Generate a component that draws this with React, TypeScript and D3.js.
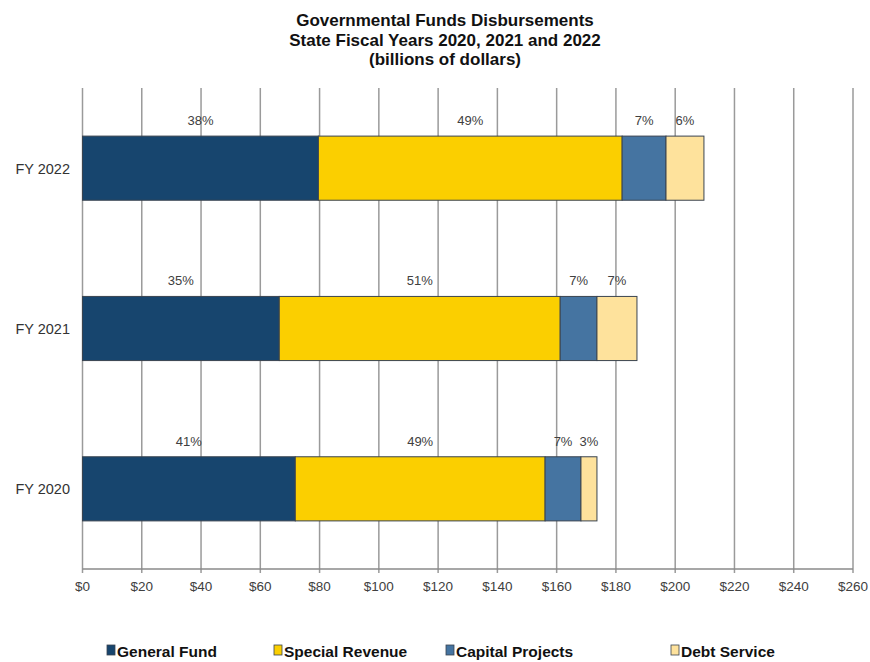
import React from "react";
import * as d3 from "d3";

const years = ["FY 2022", "FY 2021", "FY 2020"];
const seriesNames = ["General Fund", "Special Revenue", "Capital Projects", "Debt Service"];
const generalFund = [79.6, 66.4, 71.8];
const specialRevenue = [102.5, 94.8, 84.3];
const capitalProjects = [14.8, 12.4, 12.1];
const debtService = [12.8, 13.5, 5.4];
const pctLabels = [
  ["38%", "49%", "7%", "6%"],
  ["35%", "51%", "7%", "7%"],
  ["41%", "49%", "7%", "3%"],
];
const xTicks = [0, 20, 40, 60, 80, 100, 120, 140, 160, 180, 200, 220, 240, 260];
const colors = ["#17456e", "#fbcf00", "#4574a1", "#fee29c"];

const W = 870, H = 662;
const left = 82.5, right = 853, top = 88, bottom = 569;
const FONT = "'Liberation Sans', Arial, sans-serif";

export default function App() {
  const x = d3.scaleLinear().domain([0, 260]).range([left, right]);
  const y = d3.scaleBand().domain(years).range([top, bottom]).paddingInner(0.6).paddingOuter(0.3);
  const rows = years.map((yr, i) => ({
    year: yr,
    "General Fund": generalFund[i],
    "Special Revenue": specialRevenue[i],
    "Capital Projects": capitalProjects[i],
    "Debt Service": debtService[i],
  }));
  const stacked = d3.stack<any>().keys(seriesNames)(rows);
  const legendX = [107, 274, 446, 671];

  return (
    <svg width={W} height={H} style={{ position: "absolute", left: 0, top: 0, background: "#fff" }} fontFamily={FONT}>
      <rect x={0} y={0} width={W} height={H} fill="#fff" />
      <g fontWeight="bold" fontSize={17} fill="#111" textAnchor="middle">
        <text x={445} y={26}>Governmental Funds Disbursements</text>
        <text x={445} y={45.5}>State Fiscal Years 2020, 2021 and 2022</text>
        <text x={445} y={64.5}>(billions of dollars)</text>
      </g>
      {xTicks.map((t) => (
        <line key={t} x1={x(t)} x2={x(t)} y1={top} y2={bottom + 4} stroke="#9a9a9a" strokeWidth={1.5} />
      ))}
      <line x1={left} x2={right} y1={bottom} y2={bottom} stroke="#8a8a8a" strokeWidth={1.5} />
      {xTicks.map((t) => (
        <text key={"l" + t} x={x(t)} y={591} textAnchor="middle" fontSize={13.5} fill="#404040">
          {"$" + t}
        </text>
      ))}
      {stacked.map((s, si) =>
        s.map((d, i) => (
          <rect
            key={si + "-" + i}
            x={x(d[0])}
            y={y(years[i])!}
            width={x(d[1]) - x(d[0])}
            height={y.bandwidth()}
            fill={colors[si]}
            stroke="#3a4450"
            strokeWidth={1}
          />
        ))
      )}
      {stacked.map((s, si) =>
        s.map((d, i) => (
          <text
            key={"p" + si + "-" + i}
            x={(x(d[0]) + x(d[1])) / 2}
            y={y(years[i])! - 11}
            textAnchor="middle"
            fontSize={13}
            fill="#404040"
          >
            {pctLabels[i][si]}
          </text>
        ))
      )}
      {years.map((yr) => (
        <text key={yr} x={70} y={y(yr)! + y.bandwidth() / 2 + 5.5} textAnchor="end" fontSize={14.5} fill="#333">
          {yr}
        </text>
      ))}
      {seriesNames.map((n, i) => (
        <g key={n}>
          <rect x={legendX[i]} y={645} width={8} height={10} fill={colors[i]} stroke="#3a4450" strokeWidth={0.8} />
          <text x={legendX[i] + 10} y={656.5} fontSize={15.5} fontWeight="bold" fill="#111">
            {n}
          </text>
        </g>
      ))}
    </svg>
  );
}
